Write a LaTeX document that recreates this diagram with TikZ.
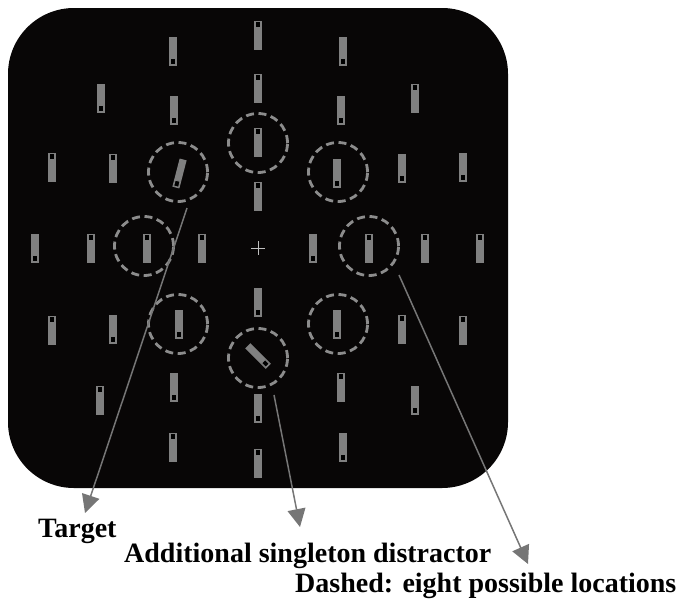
\documentclass[tikz,border=0pt]{standalone}
\usepackage{fontspec}
\setmainfont{Liberation Serif}
\usetikzlibrary{arrows.meta}
\definecolor{boardblack}{RGB}{8,6,6}
\definecolor{bargrey}{RGB}{128,128,128}
\definecolor{ringgrey}{RGB}{140,140,140}
\definecolor{arrowgrey}{RGB}{118,118,118}
\begin{document}
\begin{tikzpicture}[x=1pt,y=-1pt]
        \tikzset{
            bart/.pic={
              \fill[bargrey] (-3.6,-14.5) rectangle (3.6,14.5);
              \filldraw[fill=black,draw=bargrey,line width=0.9pt] (-2.5,-13.5) rectangle (2.5,-7.5);
            },
            barb/.pic={
              \fill[bargrey] (-3.6,-14.5) rectangle (3.6,14.5);
              \filldraw[fill=black,draw=bargrey,line width=0.9pt] (-2.5,13.5) rectangle (2.5,7.5);
            },
            loc/.style={circle,draw=ringgrey,line width=2.8pt,dash pattern=on 8pt off 4.6pt,
              minimum size=59pt,inner sep=0pt},
            pointer/.style={draw=arrowgrey,line width=1.5pt,-{Triangle[length=18pt,width=18pt]}},
            caption/.style={anchor=base west,inner sep=0pt,font=\fontsize{28}{30}\selectfont\bfseries}
          }

        \useasboundingbox (0,0) rectangle (679,608);
        \fill[boardblack,rounded corners=66pt] (8,8) rectangle (508,488);

        \foreach \x/\y in {258/35,258/88,258/142,258/196,258/463,173/447,341/387,
                           415/98,100/400,52/167,113/168,52/330,402/329,463/330,
                           91/248,147/248,202/248,369/248,425/248,480/248}
          \pic at (\x,\y) {bart};
        \foreach \x/\y in {258/302,258/408,173/51,174/110,179/324,174/387,
                           343/51,341/110,337/173,337/324,343/447,101/98,415/400,
                           402/168,463/167,113/329,35/248,313/248}
          \pic at (\x,\y) {barb};
        \pic[rotate=-14.5] at (179.5,173.5) {barb};
        \pic[rotate=45] at (258,356) {barb};

        \draw[white!75!black,line width=0.9pt] (251,248) -- (265,248) (258,241) -- (258,255);

        \node[loc] (ctop) at (258,143) {};
        \node[loc] (ctarget) at (178,172) {};
        \node[loc] (cupright) at (338,172) {};
        \node[loc] (cleft) at (144,246) {};
        \node[loc] (cright) at (369,246) {};
        \node[loc] (clowleft) at (178,324) {};
        \node[loc] (clowright) at (338,324) {};
        \node[loc] (cdistractor) at (258,358) {};

        \node[caption] (ltarget) at (38,537) {Target};
        \node[caption] (ldistractor) at (124,562) {Additional singleton distractor};
        \node[caption] (llocations) at (295,592) {Dashed: eight possible locations};

        \coordinate (tfrom) at (187,208);
        \coordinate (ttip) at (85,513);
        \coordinate (dfrom) at (274,395);
        \coordinate (dtip) at (300,527);
        \coordinate (rfrom) at (399,275);
        \coordinate (rtip) at (528,564);
        \draw[pointer] (tfrom) -- (ttip);
        \draw[pointer] (dfrom) -- (dtip);
        \draw[pointer] (rfrom) -- (rtip);
\end{tikzpicture}
\end{document}
